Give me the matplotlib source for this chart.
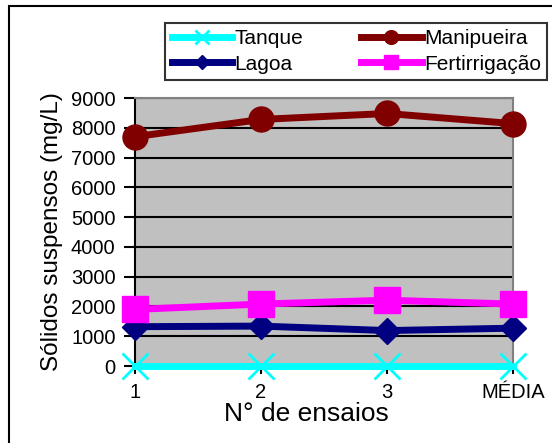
import matplotlib
matplotlib.use('Agg')
import matplotlib.pyplot as plt
from matplotlib.patches import Rectangle

# data
ensaios = ['1', '2', '3', 'MÉDIA']
tanque = [0, 0, 0, 0]
lagoa = [1320, 1340, 1190, 1270]
manipueira = [7700, 8280, 8480, 8140]
fertirrigacao = [1900, 2080, 2210, 2080]
y_ticks = [0, 1000, 2000, 3000, 4000, 5000, 6000, 7000, 8000, 9000]

plt.rcParams['font.family'] = ['Liberation Sans', 'DejaVu Sans']

W, H = 552, 443
fig = plt.figure(figsize=(W / 100, H / 100), dpi=100)
ax = fig.add_axes([135 / W, 1 - 366 / H, (513 - 135) / W, (366 - 98) / H])
ax.set_facecolor('#C0C0C0')

x = list(range(len(ensaios)))
ax.plot(x, tanque, color='#00FFFF', lw=5, marker='x', ms=19, mew=2,
        label='Tanque', clip_on=False, zorder=6)
ax.plot(x, lagoa, color='#000080', lw=5, marker='D', ms=13, label='Lagoa',
        clip_on=False, zorder=3)
ax.plot(x, manipueira, color='#800000', lw=5, marker='o', ms=18,
        label='Manipueira', clip_on=False, zorder=4)
ax.plot(x, fertirrigacao, color='#FF00FF', lw=5, marker='s', ms=19,
        label='Fertirrigação', clip_on=False, zorder=5)

ax.set_xlim(0, 3)
ax.set_ylim(0, 9000)
ax.set_xticks(x)
ax.set_xticklabels(ensaios)
ax.set_yticks(y_ticks)
ax.tick_params(axis='both', labelsize=14.5, direction='out', width=1.5,
               color='black')
ax.tick_params(axis='y', length=8, pad=6)
ax.tick_params(axis='x', length=6, pad=6)

ax.yaxis.grid(True, color='black', lw=1.5)
ax.set_axisbelow(True)
for side in ['left', 'bottom']:
    ax.spines[side].set_color('black')
    ax.spines[side].set_linewidth(1.5)
for side in ['top', 'right']:
    ax.spines[side].set_color('#808080')
    ax.spines[side].set_linewidth(1.5)

ax.set_ylabel('Sólidos suspensos (mg/L)', fontsize=17.5, labelpad=6)
ax.set_xlabel('N° de ensaios', fontsize=19, labelpad=0)
ax.xaxis.set_label_coords((306 - 135) / (513 - 135), -0.135)

leg = fig.legend(loc='upper right', bbox_to_anchor=(547 / W, 1 - 23 / H),
                 ncol=2, fontsize=15, frameon=True, fancybox=False,
                 borderaxespad=0, handlelength=2.9, handletextpad=0.1,
                 columnspacing=2.8, borderpad=0.3, labelspacing=0.3,
                 markerscale=0.55)
leg.get_frame().set_edgecolor('black')
leg.get_frame().set_linewidth(1.5)

# outer chart frame
fig.patches.append(Rectangle((9 / W, -0.1), 1.0, 1 - 6 / H + 0.1,
                             transform=fig.transFigure, fill=False,
                             edgecolor='black', lw=1.5))

fig.savefig('out.png', dpi=100)
